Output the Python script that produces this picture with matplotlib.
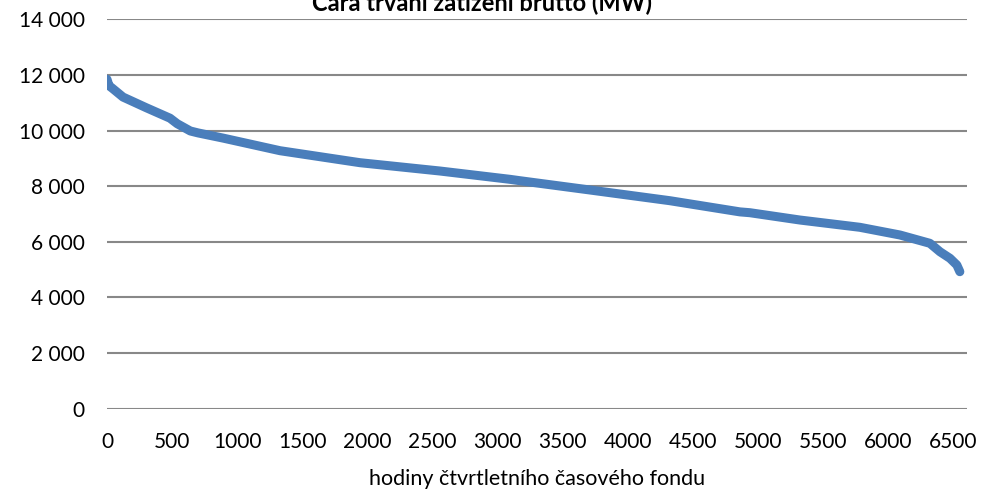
import matplotlib.pyplot as plt
from matplotlib.ticker import FuncFormatter

# load duration curve
hours = [0, 15, 40, 123, 300, 484, 540, 640, 700, 891, 1330, 1944, 2558,
         3096, 3173, 3711, 4325, 4863, 4940, 5324, 5785, 6093, 6323, 6400,
         6477, 6530, 6553]
load_mw = [11850, 11620, 11530, 11210, 10830, 10450, 10250, 9990, 9920, 9735,
           9280, 8849, 8550, 8251, 8201, 7867, 7482, 7080, 7050, 6787, 6525,
           6248, 5949, 5647, 5410, 5169, 4928]

xticks = list(range(0, 7000, 500))
yticks = list(range(0, 16000, 2000))

plt.rcParams['font.family'] = ['Lato', 'DejaVu Sans']

fig = plt.figure(figsize=(10.04, 4.93), dpi=100)
ax = fig.add_axes([107 / 1004, 1 - 408.7 / 493, (967 - 107) / 1004, (408.7 - 19.5) / 493])

ax.plot(hours, load_mw, color='#4A7EBB', lw=6.5, solid_capstyle='round',
        solid_joinstyle='round', zorder=3)

ax.set_xlim(0, 6608)
ax.set_ylim(0, 14000)
ax.set_xticks(xticks)
ax.set_yticks(yticks)
ax.yaxis.set_major_formatter(FuncFormatter(lambda v, p: f"{int(v):,}".replace(",", " ")))
ax.tick_params(length=0, labelsize=15, colors='black', pad=17)
ax.tick_params(axis='y', pad=16)
ax.grid(axis='y', color='#888888', lw=1.5)
ax.set_axisbelow(True)
for s in ax.spines.values():
    s.set_visible(False)

ax.set_xlabel("hodiny čtvrtletního časového fondu", fontsize=15.5, labelpad=12)

# title sits partly above the top edge, as in the reference
fig.text(0.48, 1 - 10 / 493, "Čára trvání zatížení brutto (MW)", ha='center',
         va='baseline', fontsize=17, fontweight='bold')

fig.savefig("out.png", dpi=100)
